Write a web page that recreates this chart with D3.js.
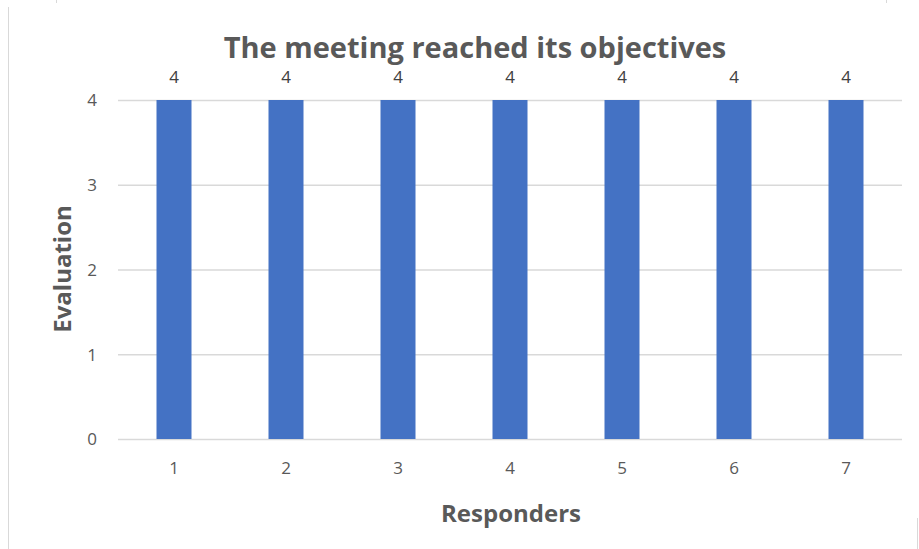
<!DOCTYPE html>
<html>
<head>
  <meta charset="utf-8">
  <style>
    body { margin: 0; background: #fff; }
    svg text { font-family: "Open Sans", "Noto Sans", sans-serif; }
    .bar { fill: #4472c4; }
  </style>
  <script src="https://d3js.org/d3.v7.min.js"></script>
</head>
<body>
  <div id="chart"></div>
  <script>
  // chart data
  var responders = ["1", "2", "3", "4", "5", "6", "7"];
  var evaluation = [4, 4, 4, 4, 4, 4, 4];
  var yTicks = [0, 1, 2, 3, 4];

  var W = 919, H = 549;
  var margin = {top: 100, right: 17, bottom: 110, left: 118};
  var width = W - margin.left - margin.right,
      height = H - margin.top - margin.bottom;

  var svg = d3.select("#chart").append("svg")
      .attr("width", W)
      .attr("height", H);

  // faint frame edges from the screenshot
  svg.append("line").attr("x1", 8.5).attr("x2", 8.5).attr("y1", 7).attr("y2", H)
    .attr("stroke", "#d9d9d9");
  svg.append("line").attr("x1", 56.5).attr("x2", 56.5).attr("y1", 0).attr("y2", 3)
    .attr("stroke", "#d9d9d9");
  svg.append("line").attr("x1", 886.5).attr("x2", 886.5).attr("y1", 0).attr("y2", 3)
    .attr("stroke", "#d9d9d9");
  svg.append("line").attr("x1", 917.5).attr("x2", 917.5).attr("y1", 518).attr("y2", H)
    .attr("stroke", "#d9d9d9");

  var g = svg.append("g")
      .attr("transform", "translate(" + margin.left + "," + margin.top + ")");

  var x = d3.scaleBand()
      .domain(responders)
      .range([0, width])
      .paddingInner(0.6875)
      .paddingOuter(0.34375);

  var y = d3.scaleLinear()
      .domain([0, 4])
      .range([height, 0]);

  // gridlines + y labels
  var yAxis = d3.axisRight(y).tickValues(yTicks).tickSize(width).tickFormat(d3.format("d"));
  g.append("g")
    .call(yAxis)
    .call(function(a) {
      a.select(".domain").remove();
      a.selectAll(".tick line").attr("stroke", "#d9d9d9").attr("stroke-width", 1.3);
      a.selectAll(".tick text")
        .attr("x", -21)
        .attr("dy", "0.35em")
        .style("text-anchor", "end")
        .style("font-size", "17px")
        .attr("fill", "#595959");
    });

  // bars
  var data = responders.map(function(r, i) { return {r: r, v: evaluation[i]}; });
  g.selectAll(".bar")
    .data(data)
    .enter().append("rect")
      .attr("class", "bar")
      .attr("x", function(d) { return x(d.r); })
      .attr("width", x.bandwidth())
      .attr("y", function(d) { return y(d.v); })
      .attr("height", function(d) { return height - y(d.v); });

  // value labels
  g.selectAll(".label")
    .data(data)
    .enter().append("text")
      .attr("class", "label")
      .attr("x", function(d) { return x(d.r) + x.bandwidth() / 2; })
      .attr("y", function(d) { return y(d.v) - 17; })
      .attr("text-anchor", "middle")
      .style("font-size", "17px")
      .attr("fill", "#404040")
      .text(function(d) { return d.v; });

  // x axis labels
  g.append("g")
    .attr("transform", "translate(0," + height + ")")
    .call(d3.axisBottom(x).tickSize(0))
    .call(function(a) {
      a.select(".domain").remove();
      a.selectAll(".tick text")
        .attr("y", 23)
        .style("font-size", "17px")
        .attr("fill", "#595959");
    });

  // title
  svg.append("text")
    .attr("x", 475)
    .attr("y", 58)
    .attr("text-anchor", "middle")
    .style("font-size", "29px")
    .style("font-weight", "bold")
    .attr("fill", "#595959")
    .text("The meeting reached its objectives");

  // axis titles
  svg.append("text")
    .attr("x", 511)
    .attr("y", 522)
    .attr("text-anchor", "middle")
    .style("font-size", "24px")
    .style("font-weight", "bold")
    .attr("fill", "#595959")
    .text("Responders");

  svg.append("text")
    .attr("transform", "translate(71,269) rotate(-90)")
    .attr("text-anchor", "middle")
    .style("font-size", "24px")
    .style("font-weight", "bold")
    .attr("fill", "#595959")
    .text("Evaluation");
  </script>
</body>
</html>
